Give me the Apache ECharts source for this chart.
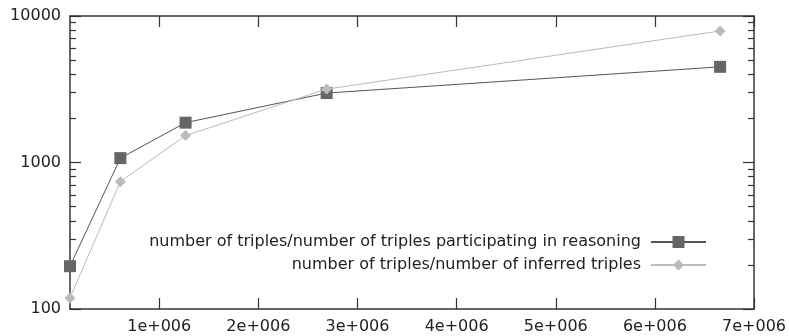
<!DOCTYPE html>
<html>
<head>
<meta charset="utf-8">
<script src="https://cdn.jsdelivr.net/npm/echarts@6/dist/echarts.min.js"></script>
<style>
html,body{margin:0;padding:0;background:#fff;}
#chart{width:789px;height:336px;}
</style>
</head>
<body>
<div id="chart"></div>
<script>
// ---- data ----
const seriesNames = [
  'number of triples/number of triples participating in reasoning',
  'number of triples/number of inferred triples'
];
const xValues = [100000, 608000, 1266000, 2689000, 6658000];
const participatingRatio = [196, 1071, 1871, 2978, 4498];
const inferredRatio = [119, 740, 1527, 3170, 7907];
const xTickValues = [1000000, 2000000, 3000000, 4000000, 5000000, 6000000, 7000000];
const yMinorTickValues = [200, 300, 400, 500, 600, 700, 800, 900, 2000, 3000, 4000, 5000, 6000, 7000, 8000, 9000];

const FONT = 'DejaVu Sans';
const TXT = '#222';
const AX = '#333';
const X_MIN = 100000, X_MAX = 7000000, Y_MIN = 100, Y_MAX = 10000;

const chart = echarts.init(document.getElementById('chart'), null, {renderer: 'canvas'});

function pairs(ys) { return xValues.map((x, i) => [x, ys[i]]); }

const axisLineStyle = {show: true, lineStyle: {color: AX, width: 1.5}};

const option = {
  animation: false,
  backgroundColor: '#fff',
  grid: {left: 70, right: 32, top: 16, bottom: 27, containLabel: false},
  xAxis: [
    {
      type: 'value', position: 'bottom', min: X_MIN, max: X_MAX,
      axisLine: axisLineStyle,
      axisTick: {show: true, inside: true, length: 11, customValues: xTickValues, lineStyle: {color: AX, width: 1.2}},
      axisLabel: {show: true, customValues: xTickValues, color: TXT, fontFamily: FONT, fontSize: 16, margin: 10,
        formatter: v => (Math.round(v / 1e6)) + 'e+006'},
      splitLine: {show: false}
    },
    {
      type: 'value', position: 'top', min: X_MIN, max: X_MAX,
      axisLine: axisLineStyle,
      axisTick: {show: true, inside: true, length: 11, customValues: xTickValues, lineStyle: {color: AX, width: 1.2}},
      axisLabel: {show: false},
      splitLine: {show: false}
    }
  ],
  yAxis: [
    {
      type: 'log', logBase: 10, position: 'left', min: Y_MIN, max: Y_MAX,
      axisLine: axisLineStyle,
      axisTick: {show: true, inside: true, length: 11, lineStyle: {color: AX, width: 1.2}},
      axisLabel: {show: true, color: TXT, fontFamily: FONT, fontSize: 16, margin: 9, formatter: v => String(Math.round(v))},
      splitLine: {show: false}
    },
    {
      type: 'log', logBase: 10, position: 'left', min: Y_MIN, max: Y_MAX,
      axisLine: {show: false},
      axisTick: {show: true, inside: true, length: 6, customValues: yMinorTickValues, lineStyle: {color: AX, width: 1.2}},
      axisLabel: {show: false},
      splitLine: {show: false}
    },
    {
      type: 'log', logBase: 10, position: 'right', min: Y_MIN, max: Y_MAX,
      axisLine: axisLineStyle,
      axisTick: {show: true, inside: true, length: 11, lineStyle: {color: AX, width: 1.2}},
      axisLabel: {show: false},
      splitLine: {show: false}
    },
    {
      type: 'log', logBase: 10, position: 'right', min: Y_MIN, max: Y_MAX,
      axisLine: {show: false},
      axisTick: {show: true, inside: true, length: 6, customValues: yMinorTickValues, lineStyle: {color: AX, width: 1.2}},
      axisLabel: {show: false},
      splitLine: {show: false}
    }
  ],
  legend: [
    {
      data: [seriesNames[0]], orient: 'vertical', align: 'right', right: 82, top: 234,
      padding: 0, itemWidth: 55, itemHeight: 15,
      textStyle: {color: TXT, fontFamily: FONT, fontSize: 16, padding: [0, 5, 0, 0]}
    },
    {
      data: [seriesNames[1]], orient: 'vertical', align: 'right', right: 82, top: 257,
      padding: 0, itemWidth: 55, itemHeight: 14,
      textStyle: {color: TXT, fontFamily: FONT, fontSize: 16, padding: [0, 5, 0, 0]}
    }
  ],
  series: [
    {
      name: seriesNames[0], type: 'line', xAxisIndex: 0, yAxisIndex: 0,
      data: pairs(participatingRatio),
      symbol: 'rect', symbolSize: 12, showAllSymbol: true,
      lineStyle: {color: '#555', width: 1},
      itemStyle: {color: '#666', borderWidth: 0},
      z: 3
    },
    {
      name: seriesNames[1], type: 'line', xAxisIndex: 0, yAxisIndex: 0,
      data: pairs(inferredRatio),
      symbol: 'diamond', symbolSize: 11, showAllSymbol: true,
      lineStyle: {color: '#bbb', width: 1},
      itemStyle: {color: '#bbb', borderWidth: 0},
      z: 4
    }
  ]
};
chart.setOption(option);
</script>
</body>
</html>
